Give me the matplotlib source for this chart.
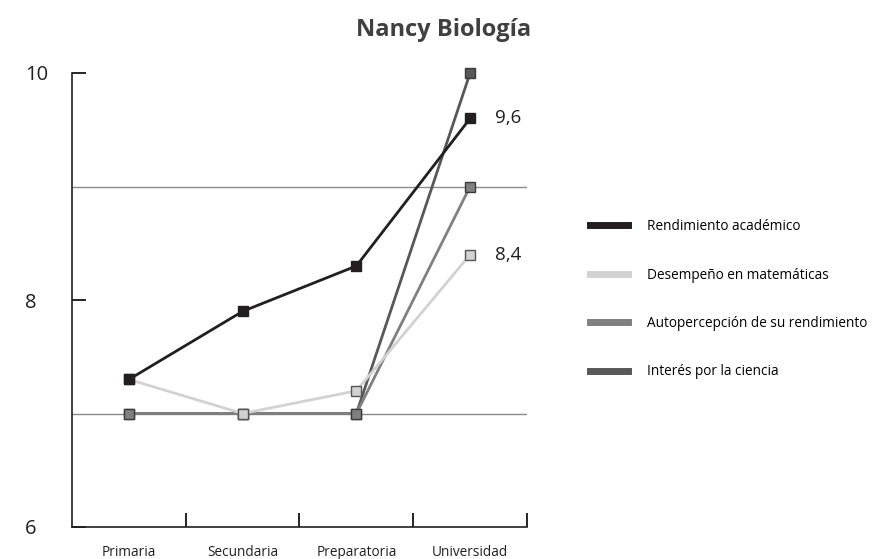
import numpy as np
import matplotlib.pyplot as plt
from matplotlib.lines import Line2D

plt.rcParams['font.family'] = ['Open Sans', 'DejaVu Sans']

niveles = ['Primaria', 'Secundaria', 'Preparatoria', 'Universidad']
series = ['Rendimiento académico', 'Desempeño en matemáticas',
          'Autopercepción de su rendimiento', 'Interés por la ciencia']
rendimiento = [7.3, 7.9, 8.3, 9.6]
matematicas = [7.3, 7.0, 7.2, 8.4]
autopercepcion = [7.0, 7.0, 7.0, 9.0]
interes = [7.0, 7.0, 7.0, 10.0]

colores = ['#231f20', '#d2d2d2', '#808080', '#585858']
bordes = ['#231f20', '#555555', '#3a3a3a', '#3a3a3a']

fig = plt.figure(figsize=(8.79, 5.59), dpi=100)
ax = fig.add_axes([72/879, 32/559, 455/879, 454/559])

x = np.arange(len(niveles))
datos = [rendimiento, matematicas, autopercepcion, interes]
# dibujar de atrás hacia adelante
for i in [3, 2, 1, 0]:
    ax.plot(x, datos[i], color=colores[i], lw=2, marker='s', ms=7,
            mfc=colores[i], mec=bordes[i], mew=1, clip_on=False,
            zorder=3 + (3 - i) * 0.1)

for v in (7, 9):
    ax.axhline(v, color='#8a8a8a', lw=1, zorder=1)

# valores finales
for serie in (rendimiento, matematicas):
    ax.text(x[-1] + 0.22, serie[-1], f'{serie[-1]:.1f}'.replace('.', ','),
            fontsize=13.5, va='center', ha='left', color='#231f20')

ax.set_xlim(-0.5, 3.5)
ax.set_ylim(6, 10)
ax.spines['top'].set_visible(False)
ax.spines['right'].set_visible(False)
for s in ('left', 'bottom'):
    ax.spines[s].set_color('#231f20')
    ax.spines[s].set_linewidth(1.2)

ax.set_yticks([6, 8, 10])
ax.set_yticklabels(['6', '8', '10'], fontsize=14.5, color='#231f20')
ax.tick_params(axis='y', direction='in', length=10, width=1.2, pad=34)
for lab in ax.get_yticklabels():
    lab.set_horizontalalignment('left')
ax.set_xticks([0.5, 1.5, 2.5, 3.5])
ax.set_xticklabels([])
ax.tick_params(axis='x', direction='in', length=10, width=1.2)
ax.set_xticks(x, minor=True)
ax.set_xticklabels(niveles, minor=True, fontsize=9.8, color='#231f20')
ax.tick_params(axis='x', which='minor', length=0, pad=13)

fig.text(444/879, 1 - 30/559, 'Nancy Biología', ha='center', va='center',
         fontsize=17, fontweight='bold', color='#404040')

handles = [Line2D([0], [0], color=c, lw=5) for c in colores]
fig.legend(handles, series, loc='upper left', bbox_to_anchor=(578/879, 1 - 207/559),
           frameon=False, fontsize=9.8, handlelength=2.8, handletextpad=1.4,
           labelspacing=2.45)

fig.savefig('out.png', dpi=100)
